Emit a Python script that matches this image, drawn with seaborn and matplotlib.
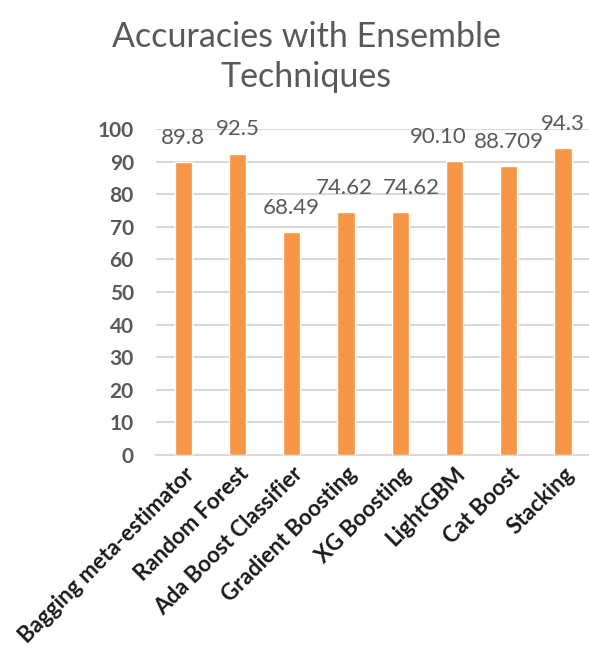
import matplotlib
matplotlib.use("Agg")
import matplotlib.pyplot as plt
import seaborn as sns
import pandas as pd

categories = ["Bagging meta-estimator", "Random Forest", "Ada Boost Classifier",
              "Gradient Boosting", "XG Boosting", "LightGBM", "Cat Boost", "Stacking"]
accuracies = [89.8, 92.5, 68.49, 74.62, 74.62, 90.10, 88.709, 94.3]
value_labels = ["89.8", "92.5", "68.49", "74.62", "74.62", "90.10", "88.709", "94.3"]
yticks = [0, 10, 20, 30, 40, 50, 60, 70, 80, 90, 100]

sns.set_theme(style="white")
plt.rcParams['font.family'] = ['Lato', 'DejaVu Sans']

df = pd.DataFrame({"Technique": categories, "Accuracy": accuracies})

fig = plt.figure(figsize=(5.89, 6.52), dpi=100)
ax = fig.add_axes([0.265, 0.302, 0.737, 0.500])

sns.barplot(data=df, x="Technique", y="Accuracy", color="#F79646",
            saturation=1, width=0.32, ax=ax, zorder=3)

ax.set_ylim(0, 100)
ax.set_xlim(-0.5, len(categories) - 0.5)
ax.set_yticks(yticks)
ax.yaxis.grid(True, color="#D9D9D9", linewidth=1.5, zorder=0)
ax.xaxis.grid(False)
for s in ["top", "right", "left"]:
    ax.spines[s].set_visible(False)
ax.spines["bottom"].set_color("#D9D9D9")
ax.spines["bottom"].set_linewidth(1.5)
ax.set_xlabel("")
ax.set_ylabel("")
ax.tick_params(axis="both", length=0)
ax.tick_params(axis="y", pad=16)
for lbl in ax.get_yticklabels():
    lbl.set_fontsize(15)
    lbl.set_fontweight("bold")
    lbl.set_color("#595959")
ax.set_xticks(range(len(categories)))
ax.set_xticklabels(categories, rotation=45, ha="right", rotation_mode="anchor",
                   fontsize=16, fontweight="bold", color="#1a1a1a")
ax.tick_params(axis="x", pad=6)

# small horizontal nudges (points) to keep neighbouring labels apart, as in the reference
nudges = [0, 0, 0, -1, 8, -11.5, 0, 0]
for i, (v, t, dx) in enumerate(zip(accuracies, value_labels, nudges)):
    ax.annotate(t, (i, v), xytext=(dx, 13), textcoords="offset points",
                ha="center", va="baseline", fontsize=16, color="#595959",
                annotation_clip=False, zorder=4)

fig.text(0.52, 0.912, "Accuracies with Ensemble\nTechniques", ha="center", va="center",
         fontsize=24.5, color="#595959", linespacing=1.3)

fig.savefig("out.png", dpi=100)
